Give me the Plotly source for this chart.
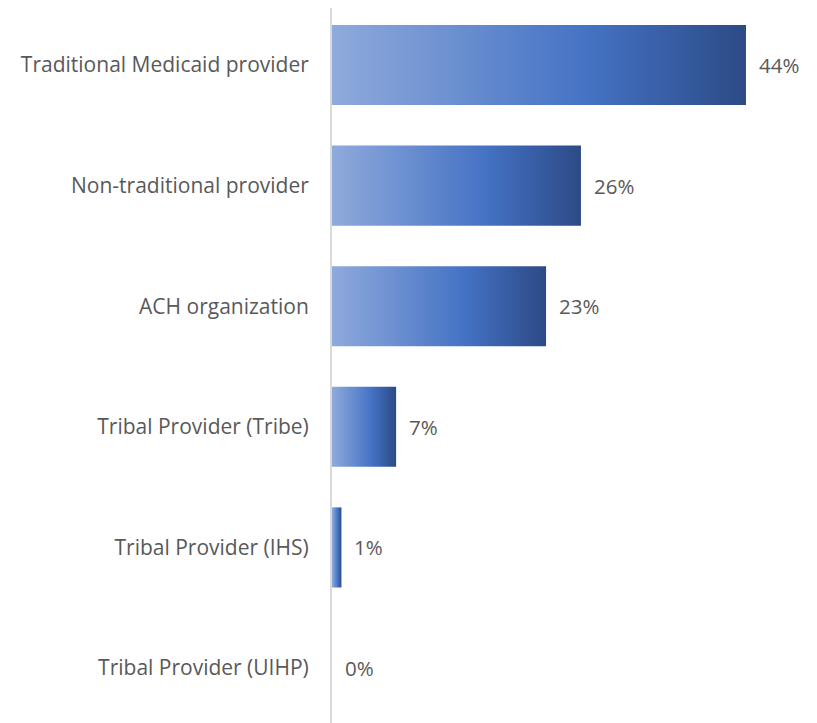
import plotly.graph_objects as go

categories = [
    "Traditional Medicaid provider",
    "Non-traditional provider",
    "ACH organization",
    "Tribal Provider (Tribe)",
    "Tribal Provider (IHS)",
    "Tribal Provider (UIHP)",
]
shares = [43.9, 26.4, 22.7, 6.8, 1.0, 0.0]
share_labels = ["44%", "26%", "23%", "7%", "1%", "0%"]

GRADIENT = [[0.0, "#8faadc"], [0.62, "#4472c4"], [1.0, "#2c4a86"]]
TEXT_COLOR = "#595959"
FONT = "Open Sans"
BAR_HALF = 0.332

fig = go.Figure()

# gradient bars, one filled shape per category so each gets its own gradient
for i, (cat, val) in enumerate(zip(categories, shares)):
    if val <= 0:
        continue
    fig.add_trace(go.Scatter(
        x=[0, val, val, 0, 0],
        y=[i - BAR_HALF, i - BAR_HALF, i + BAR_HALF, i + BAR_HALF, i - BAR_HALF],
        mode="lines",
        line=dict(width=0),
        fill="toself",
        fillgradient=dict(type="horizontal", colorscale=GRADIENT),
        hovertemplate=f"{cat}: {val}%<extra></extra>",
        showlegend=False,
    ))

for i, (val, lab) in enumerate(zip(shares, share_labels)):
    fig.add_annotation(
        x=val, y=i, text=lab, xanchor="left", yanchor="middle",
        xshift=11, showarrow=False,
        font=dict(family=FONT, size=20.5, color=TEXT_COLOR),
    )

fig.update_layout(
    width=817,
    height=723,
    margin=dict(l=324, r=0, t=0, b=0),
    plot_bgcolor="white",
    paper_bgcolor="white",
    font=dict(family=FONT, size=21, color=TEXT_COLOR),
)
fig.update_xaxes(
    range=[0, 52.28], showgrid=False, zeroline=False,
    showticklabels=False, showline=False,
)
fig.update_yaxes(
    range=[5.522, -0.4726], tickvals=list(range(len(categories))),
    ticktext=categories, showgrid=False, zeroline=False,
    showline=True, linecolor="#d9d9d9", linewidth=2,
    ticks="", ticklabelstandoff=17,
)

fig.write_html("out.html")
